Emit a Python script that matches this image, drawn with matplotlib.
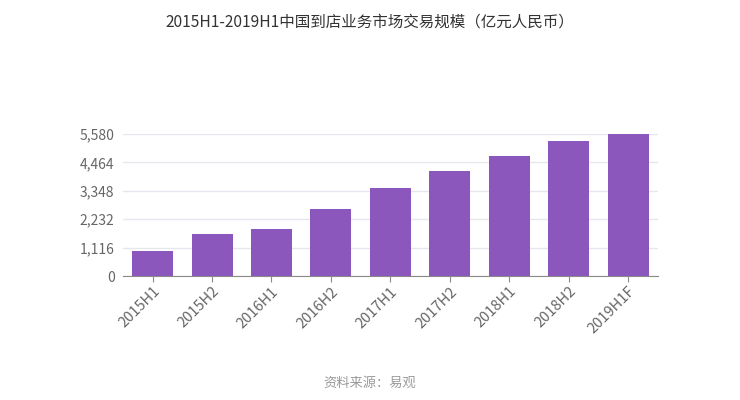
import matplotlib
matplotlib.use("Agg")
import matplotlib.pyplot as plt
from matplotlib.ticker import FuncFormatter

plt.rcParams['font.family'] = ['Noto Sans CJK SC', 'DejaVu Sans']

# 数据（亿元人民币）
periods = ['2015H1', '2015H2', '2016H1', '2016H2', '2017H1',
           '2017H2', '2018H1', '2018H2', '2019H1F']
values = [994, 1663, 1835, 2620, 3470, 4138, 4703, 5293, 5580]
yticks = [0, 1116, 2232, 3348, 4464, 5580]

fig = plt.figure(figsize=(7.4, 4), dpi=100)
ax = fig.add_axes([0.166, 0.31, 0.723, 0.355])

x = list(range(len(periods)))
ax.bar(x, values, width=0.69, color='#8b57bd', zorder=3)

ax.set_xlim(-0.5, len(periods) - 0.5)
ax.set_ylim(0, 5580)
ax.set_yticks(yticks)
ax.yaxis.set_major_formatter(FuncFormatter(lambda v, p: f'{int(v):,}'))
ax.grid(axis='y', color='#e6e6ee', linewidth=1, zorder=0)

for s in ['top', 'right', 'left']:
    ax.spines[s].set_visible(False)
ax.spines['bottom'].set_color('#8a8a8a')

ax.set_xticks(x)
ax.set_xticklabels(periods, rotation=45, ha='right', rotation_mode='anchor')
ax.tick_params(axis='x', colors='#8a8a8a', labelcolor='#666666', labelsize=10.5, length=4, pad=2)
ax.tick_params(axis='y', length=0, labelcolor='#666666', labelsize=10, pad=6)

fig.text(0.5, 0.945, '2015H1-2019H1中国到店业务市场交易规模（亿元人民币）',
         ha='center', va='center', fontsize=11.2, color='#333333')
fig.text(0.5, 0.042, '资料来源：易观', ha='center', va='center',
         fontsize=9.5, color='#999999')

fig.savefig('out.png', dpi=100, facecolor='white')
